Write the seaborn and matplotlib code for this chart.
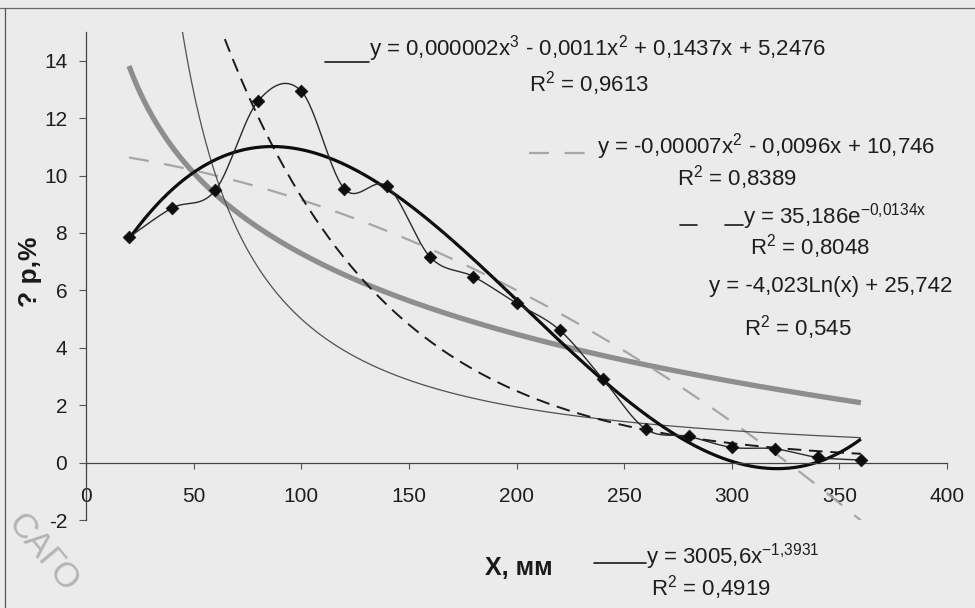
import numpy as np
import pandas as pd
import matplotlib
matplotlib.use("Agg")
import matplotlib.pyplot as plt
from matplotlib.lines import Line2D
import seaborn as sns

# ---------------- data ----------------
x_mm = [20, 40, 60, 80, 100, 120, 140, 160, 180, 200, 220, 240, 260, 280, 300, 320, 340, 360]
dp_pct = [7.85, 8.87, 9.48, 12.6, 12.94, 9.54, 9.62, 7.15, 6.48, 5.55, 4.62, 2.92,
          1.17, 0.91, 0.53, 0.48, 0.18, 0.09]
x_ticks = [0, 50, 100, 150, 200, 250, 300, 350, 400]
y_ticks = [-2, 0, 2, 4, 6, 8, 10, 12, 14]
x_label = "X, мм"
y_label = "? р,%"
eq_cubic = "y = 0,000002x$^{3}$ - 0,0011x$^{2}$ + 0,1437x + 5,2476"
r2_cubic = "R$^{2}$ = 0,9613"
eq_quad = "y = -0,00007x$^{2}$ - 0,0096x + 10,746"
r2_quad = "R$^{2}$ = 0,8389"
eq_exp = "y = 35,186e$^{-0{,}0134x}$"
r2_exp = "R$^{2}$ = 0,8048"
eq_log = "y = -4,023Ln(x) + 25,742"
r2_log = "R$^{2}$ = 0,545"
eq_pow = "y = 3005,6x$^{-1{,}3931}$"
r2_pow = "R$^{2}$ = 0,4919"
stamp = "САГО"

# ---------------- style ----------------
sns.set_theme(style="white")
plt.rcParams["font.family"] = ["Liberation Sans", "DejaVu Sans"]
plt.rcParams["mathtext.default"] = "regular"
BG = "#ebebeb"

W, H = 975, 608
fig = plt.figure(figsize=(W / 100, H / 100), dpi=100, facecolor=BG)
ax = fig.add_axes([86 / W, 1 - 520 / H, (947 - 86) / W, (520 - 32) / H])
ax.set_facecolor(BG)

x = np.asarray(x_mm, float)
y = np.asarray(dp_pct, float)
xf = np.linspace(x.min(), x.max(), 400)

# trendlines fitted from the data (least squares, as the spreadsheet does)
c3 = np.polyfit(x, y, 3)
c2 = np.polyfit(x, y, 2)
be, ae = np.polyfit(x, np.log(y), 1)
bl, al = np.polyfit(np.log(x), y, 1)
bp, ap = np.polyfit(np.log(x), np.log(y), 1)
fits = pd.DataFrame({
    "x": xf,
    "cubic": np.polyval(c3, xf),
    "quad": np.polyval(c2, xf),
    "exp": np.exp(ae) * np.exp(be * xf),
    "log": al + bl * np.log(xf),
    "pow": np.exp(ap) * xf ** bp,
})


def smooth_line(xs, ys, n=30):
    """Smoothed polyline through the points (cubic Bezier, Catmull-Rom tangents)."""
    P = np.column_stack([xs, ys]).astype(float)
    Q = np.vstack([P[0], P, P[-1]])
    t = np.linspace(0, 1, n)[:, None]
    out = []
    for i in range(len(P) - 1):
        p0, p1, p2, p3 = Q[i], Q[i + 1], Q[i + 2], Q[i + 3]
        k1 = p1 + (p2 - p0) / 6
        k2 = p2 - (p3 - p1) / 6
        seg = (1 - t) ** 3 * p1 + 3 * (1 - t) ** 2 * t * k1 + 3 * (1 - t) * t ** 2 * k2 + t ** 3 * p2
        out.append(seg if i == 0 else seg[1:])
    return np.vstack(out)


sm = smooth_line(x, y)
smooth_df = pd.DataFrame({"x": sm[:, 0], "y": sm[:, 1]})
pts = pd.DataFrame({"x": x, "y": y})

def draw(df, col, **kw):
    dashes = kw.pop("dash", None)
    sns.lineplot(data=df, x="x", y=col, ax=ax, estimator=None, sort=False, **kw)
    ln = ax.lines[-1]
    if dashes is not None:
        ln.set_dashes(dashes)
    ln.set_solid_capstyle("butt")
    ln.set_dash_capstyle("butt")

draw(fits, "log", color="#8e8e8e", linewidth=3.8)
draw(fits, "quad", color="#a6a6a6", linewidth=1.6, dash=(9, 7))
draw(fits, "pow", color="#505050", linewidth=0.9)
draw(fits, "exp", color="#1a1a1a", linewidth=1.4, dash=(7, 4))
draw(fits, "cubic", color="#0d0d0d", linewidth=2.3)
draw(smooth_df, "y", color="#2a2a2a", linewidth=1.0)
sns.scatterplot(data=pts, x="x", y="y", ax=ax, marker="D", s=42, color="#0d0d0d",
                edgecolor="#0d0d0d", linewidth=0.5, zorder=5)

# ---------------- axes ----------------
ax.set_xlim(0, 400)
ax.set_ylim(-2, 15)
ax.set_xticks(x_ticks)
ax.set_yticks(y_ticks)
ax.set_xticklabels([str(v) for v in x_ticks])
ax.set_yticklabels([str(v) for v in y_ticks])
ax.set_xlabel("")
ax.set_ylabel("")
for s in ("top", "right"):
    ax.spines[s].set_visible(False)
ax.spines["bottom"].set_position(("data", 0))
for s in ("left", "bottom"):
    ax.spines[s].set_color("#444444")
    ax.spines[s].set_linewidth(0.9)
ax.tick_params(axis="x", direction="out", length=4, width=0.8, color="#555555",
               pad=13.5, labelsize=15, labelcolor="#1e1e1e", bottom=True)
ax.tick_params(axis="y", direction="out", length=5, width=0.8, color="#555555",
               pad=8.5, labelsize=15, labelcolor="#1e1e1e", left=True)
ax.grid(False)

# ---------------- texts ----------------
def ftext(px, py, s, **kw):
    return fig.text(px / W, 1 - py / H, s, **kw)

EQ = dict(fontsize=16, color="#1e1e1e")
ftext(369, 55, eq_cubic, ha="left", va="baseline", **EQ)
ftext(589, 91, r2_cubic, ha="center", va="baseline", **EQ)
ftext(597, 153, eq_quad, ha="left", va="baseline", **EQ)
ftext(737, 185, r2_quad, ha="center", va="baseline", **EQ)
ftext(743, 223, eq_exp, ha="left", va="baseline", **EQ)
ftext(810, 255, r2_exp, ha="center", va="baseline", **EQ)
ftext(709, 292, eq_log, ha="left", va="baseline", **EQ)
ftext(798, 335, r2_log, ha="center", va="baseline", **EQ)
ftext(646, 563, eq_pow, ha="left", va="baseline", **EQ)
ftext(711, 596, r2_pow, ha="center", va="baseline", **EQ)
ftext(519, 568, x_label, ha="center", va="center", fontsize=18, fontweight="bold", color="#1a1a1a")
ftext(30, 272, y_label, ha="center", va="center", rotation=90, fontsize=19,
      fontweight="bold", color="#1a1a1a")

# key strokes beside the equations
def fline(x0, x1, py, **kw):
    fig.add_artist(Line2D([x0 / W, x1 / W], [1 - py / H] * 2, transform=fig.transFigure, **kw))

fline(325, 369, 62, color="#1a1a1a", linewidth=1.2)
fline(529, 597, 153, color="#a6a6a6", linewidth=1.6, dashes=(9, 7))
fline(680, 697, 225, color="#1a1a1a", linewidth=1.2)
fline(725, 743, 225, color="#1a1a1a", linewidth=1.2)
fline(594, 646, 563, color="#1a1a1a", linewidth=1.2)

# scan border lines and faint diagonal stamp
fline(0, 975, 8, color="#6a6a6a", linewidth=0.9)
fig.add_artist(Line2D([5 / W, 5 / W], [0, 1 - 8 / H], transform=fig.transFigure,
                      color="#555555", linewidth=0.9))
ftext(14, 518, stamp, rotation=-50, rotation_mode="anchor", ha="left", va="center",
      fontsize=25, color="#b4b4b4")

fig.savefig("out.png", dpi=100, facecolor=BG)
